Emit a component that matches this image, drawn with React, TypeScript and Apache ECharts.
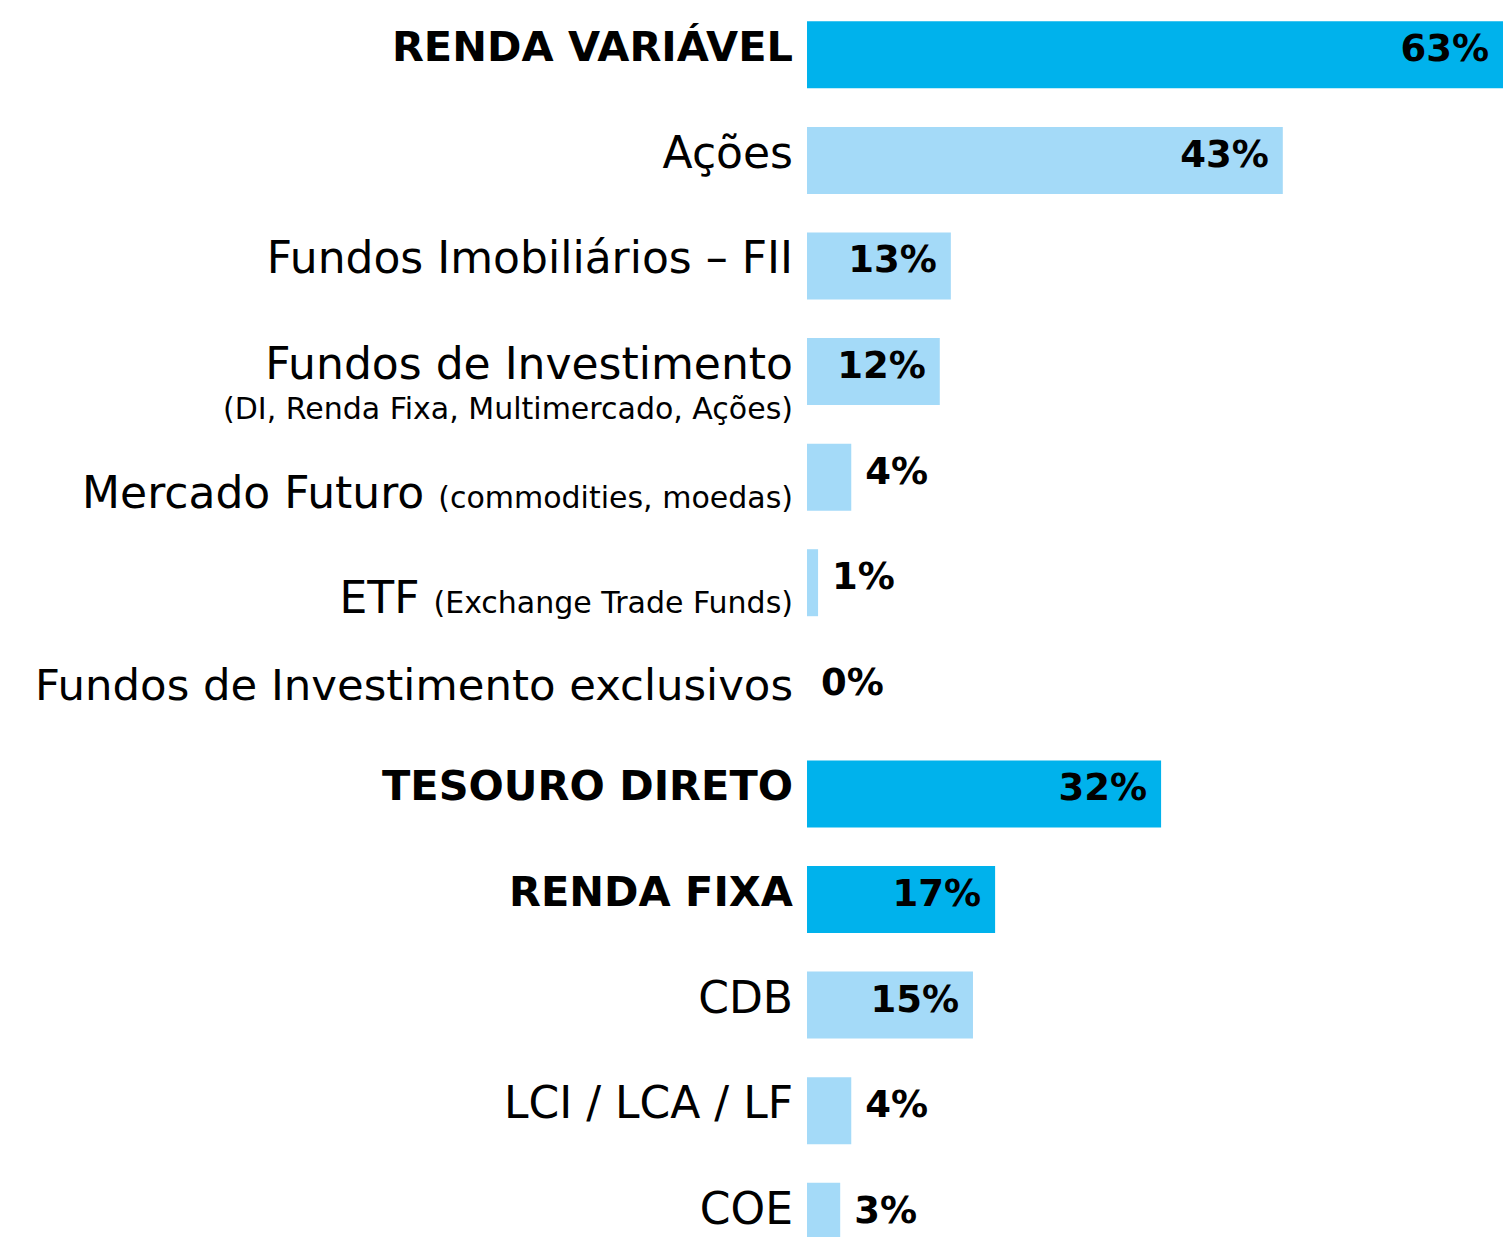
import React, { useEffect, useRef } from "react";
import * as echarts from "echarts";

const mainLabels = [
  "RENDA VARIÁVEL",
  "Ações",
  "Fundos Imobiliários – FII",
  "Fundos de Investimento",
  "Mercado Futuro",
  "ETF",
  "Fundos de Investimento exclusivos",
  "TESOURO DIRETO",
  "RENDA FIXA",
  "CDB",
  "LCI / LCA / LF",
  "COE",
];
const subLabels = [
  "",
  "",
  "",
  "(DI, Renda Fixa, Multimercado, Ações)",
  "(commodities, moedas)",
  "(Exchange Trade Funds)",
  "",
  "",
  "",
  "",
  "",
  "",
];
const values = [63, 43, 13, 12, 4, 1, 0, 32, 17, 15, 4, 3];
const isGroup = [true, false, false, false, false, false, false, true, true, false, false, false];

const DARK = "#00B2EC";
const LIGHT = "#A4DAF8";
const FONT = "DejaVu Sans";

export default function App() {
  const ref = useRef<HTMLDivElement>(null);
  useEffect(() => {
    if (!ref.current) return;
    const chart = echarts.init(ref.current, undefined, { renderer: "svg" });
    const data = values.map((v, i) => {
      const inside = v >= 10;
      return {
        value: v,
        itemStyle: { color: isGroup[i] ? DARK : LIGHT },
        label: {
          position: inside ? "insideRight" : "right",
          distance: 14,
        },
      };
    });
    chart.setOption({
      animation: false,
      grid: {
        left: 807,
        right: 0,
        top: 2,
        height: 1267,
        containLabel: false,
        outerBoundsMode: "none",
      },
      xAxis: {
        type: "value",
        min: 0,
        max: 62.9,
        show: false,
      },
      yAxis: {
        type: "category",
        inverse: true,
        data: mainLabels,
        axisLine: { show: false },
        axisTick: { show: false },
        splitLine: { show: false },
        axisLabel: {
          margin: 14,
          fontFamily: FONT,
          color: "#000",
          formatter: (val: string, idx: number) => {
            const sub = subLabels[idx];
            if (isGroup[idx]) return `{g|${val}}`;
            if (idx === 3) return `{m4|${val}}\n{s4|${sub}}`;
            if (sub) return `{ms|${val}}{ss|${sub}}`;
            if (idx === 6) return `{m0|${val}}`;
            return `{m|${val}}`;
          },
          rich: {
            g: {
              fontFamily: FONT,
              fontSize: 41.5,
              fontWeight: "bold",
              color: "#000",
              lineHeight: 46,
              padding: [0, 0, 16, 0],
            },
            m: {
              fontFamily: FONT,
              fontSize: 44,
              color: "#000",
              lineHeight: 48,
              padding: [0, 0, 16, 0],
            },
            m0: {
              fontFamily: FONT,
              fontSize: 43.4,
              color: "#000",
              lineHeight: 48,
              padding: [0, 0, 6, 0],
            },
            m4: {
              fontFamily: FONT,
              fontSize: 44,
              color: "#000",
              lineHeight: 46,
              padding: [27, 0, 0, 0],
            },
            s4: {
              fontFamily: FONT,
              fontSize: 30,
              color: "#000",
              lineHeight: 44,
              padding: [27, 0, 0, 0],
            },
            ms: {
              fontFamily: FONT,
              fontSize: 44,
              color: "#000",
              lineHeight: 46,
              padding: [30, 0, 0, 0],
            },
            ss: {
              fontFamily: FONT,
              fontSize: 30,
              color: "#000",
              lineHeight: 30,
              padding: [40, 0, 0, 14],
            },
          },
        },
      },
      series: [
        {
          type: "bar",
          data,
          barWidth: 67,
          label: {
            show: true,
            formatter: "{c}%",
            fontFamily: FONT,
            fontSize: 37,
            fontWeight: "bold",
            color: "#000",
            offset: [0, -6],
          },
        },
      ],
    });
    return () => chart.dispose();
  }, []);
  return (
    <div
      ref={ref}
      style={{ position: "absolute", left: 0, top: 0, width: 1503, height: 1237, background: "#fff" }}
    />
  );
}
